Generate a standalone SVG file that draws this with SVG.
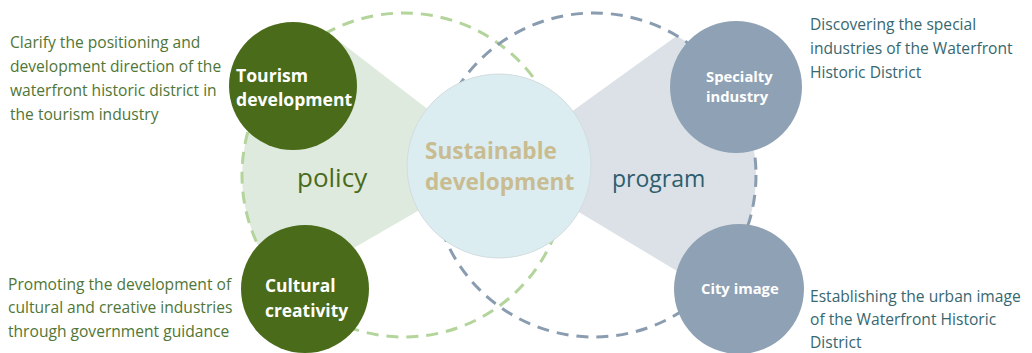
<svg xmlns="http://www.w3.org/2000/svg" width="1032" height="353" viewBox="0 0 1032 353">
<style>
.desc-l{font-family:"Open Sans","Liberation Sans",sans-serif;font-size:15.6px;fill:#4f7636}
.desc-r{font-family:"Open Sans","Liberation Sans",sans-serif;font-size:15.6px;fill:#37676f}
.node-t{font-family:"Open Sans","Liberation Sans",sans-serif;font-weight:bold;fill:#ffffff}
.green{fill:#4a6b19}
.blue{fill:#8fa1b4}
.dash-g{fill:none;stroke:#b3d49b;stroke-width:3;stroke-dasharray:12 8}
.dash-b{fill:none;stroke:#8a9cb0;stroke-width:3;stroke-dasharray:12 8}
</style>
<defs>
<clipPath id="clipG"><circle cx="404" cy="175" r="162"/></clipPath>
<clipPath id="clipB"><circle cx="594" cy="175" r="162"/></clipPath>
</defs>
<rect width="1032" height="353" fill="#ffffff"/>
<g id="fills">
<polygon points="499,164 200,-66 200,337" fill="#dfeadf" clip-path="url(#clipG)"/>
<polygon points="499,164 800,-53 800,345" fill="#dce1e7" clip-path="url(#clipB)"/>
</g>
<g id="connectors">
<circle class="dash-g" cx="404" cy="175" r="162"/>
<circle class="dash-b" cx="594" cy="175" r="162"/>
</g>
<g id="center">
<circle cx="499" cy="166" r="92" fill="#dbedf1" stroke="#d3dcdf" stroke-width="1"/>
<text font-family="'Open Sans','Liberation Sans',sans-serif" font-weight="bold" font-size="22.6" fill="#c9bc91"><tspan x="425" y="159">Sustainable</tspan><tspan x="425" y="190">development</tspan></text>
</g>
<g id="policy">
<text x="297" y="187" font-family="'Open Sans','Liberation Sans',sans-serif" font-size="26" fill="#4a6b19">policy</text>
</g>
<g id="program">
<text x="612" y="187" font-family="'Open Sans','Liberation Sans',sans-serif" font-size="23" fill="#2e5e6e">program</text>
</g>
<g id="tourism">
<circle class="green" cx="293" cy="86" r="64"/>
<text class="node-t" font-size="17.6"><tspan x="236" y="82">Tourism</tspan><tspan x="236" y="106">development</tspan></text>
</g>
<g id="cultural">
<circle class="green" cx="305" cy="289" r="64"/>
<text class="node-t" font-size="17.4"><tspan x="265" y="292">Cultural</tspan><tspan x="265" y="317">creativity</tspan></text>
</g>
<g id="specialty">
<circle class="blue" cx="736" cy="87" r="66"/>
<text class="node-t" font-size="14.8"><tspan x="706" y="82">Specialty</tspan><tspan x="706" y="102">industry</tspan></text>
</g>
<g id="cityimage">
<circle class="blue" cx="739" cy="289" r="65"/>
<text class="node-t" font-size="14.8" x="701" y="294">City image</text>
</g>
<g id="desc-tourism">
<text class="desc-l"><tspan x="10" y="48">Clarify the positioning and</tspan><tspan x="10" y="72">development direction of the</tspan><tspan x="10" y="96">waterfront historic district in</tspan><tspan x="10" y="120">the tourism industry</tspan></text>
</g>
<g id="desc-cultural">
<text class="desc-l"><tspan x="8" y="290">Promoting the development of</tspan><tspan x="8" y="313">cultural and creative industries</tspan><tspan x="8" y="337">through government guidance</tspan></text>
</g>
<g id="desc-specialty">
<text class="desc-r"><tspan x="810" y="30">Discovering the special</tspan><tspan x="810" y="54">industries of the Waterfront</tspan><tspan x="810" y="78">Historic District</tspan></text>
</g>
<g id="desc-city">
<text class="desc-r"><tspan x="810" y="302">Establishing the urban image</tspan><tspan x="810" y="325">of the Waterfront Historic</tspan><tspan x="810" y="348">District</tspan></text>
</g>
</svg>
